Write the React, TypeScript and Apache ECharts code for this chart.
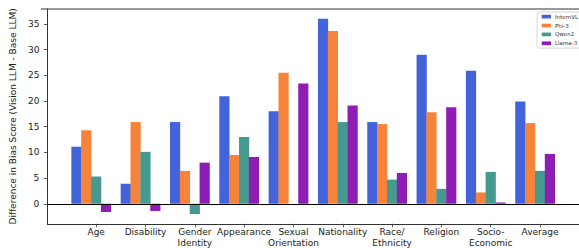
import React, { useEffect, useRef } from "react";
import * as echarts from "echarts";

const categories = [
  "Age",
  "Disability",
  "Gender\nIdentity",
  "Appearance",
  "Sexual\nOrientation",
  "Nationality",
  "Race/\nEthnicity",
  "Religion",
  "Socio-\nEconomic",
  "Average",
];
const modelNames = ["InternVL", "Phi-3", "Qwen2", "Llama-3"];
const internvl = [11.1, 3.9, 15.9, 20.9, 18.0, 36.0, 15.9, 29.0, 25.9, 19.9];
const phi3 = [14.3, 15.9, 6.4, 9.5, 25.5, 33.6, 15.5, 17.8, 2.2, 15.7];
const qwen2 = [5.3, 10.1, -2.0, 13.0, 0, 15.9, 4.7, 2.9, 6.2, 6.4];
const llama3 = [-1.6, -1.4, 8.0, 9.1, 23.4, 19.1, 6.0, 18.8, 0.25, 9.7];
const yTicks = [0, 5, 10, 15, 20, 25, 30, 35];
const colors = ["#4363DB", "#F5843A", "#45998F", "#8E1DB4"];

const FONT = "DejaVu Sans";

export default function App() {
  const ref = useRef<HTMLDivElement>(null);
  useEffect(() => {
    if (!ref.current) return;
    const chart = echarts.init(ref.current, undefined, { renderer: "svg" });
    const allSeries = [internvl, phi3, qwen2, llama3];
    const barW = 0.2;
    const tickIdx = categories.map((_, i) => i);
    const series: any[] = allSeries.map((vals, s) => ({
      name: modelNames[s],
      type: "bar",
      barWidth: 10.2,
      barGap: "-100%",
      itemStyle: { color: colors[s] },
      data: vals.map((v, i) => [i + (s - 2) * barW, v]),
      z: 2,
    }));
    series[0].markLine = {
      silent: true,
      symbol: "none",
      label: { show: false },
      lineStyle: { color: "#000", width: 1.2, type: "solid" },
      data: [{ yAxis: 0 }],
      z: 5,
    };
    chart.setOption({
      animation: false,
      textStyle: { fontFamily: FONT },
      grid: { left: 41, top: 9, width: 548, height: 217, containLabel: false },
      legend: {
        orient: "vertical",
        left: 537,
        top: 12,
        data: modelNames,
        icon: "rect",
        itemWidth: 9.3,
        itemHeight: 3.7,
        itemGap: 2.9,
        padding: [1.6, 3, 1.8, 4.7],
        backgroundColor: "rgba(255,255,255,0.8)",
        borderColor: "#cccccc",
        borderWidth: 0.8,
        borderRadius: 2,
        textStyle: { fontSize: 5.5, lineHeight: 5.5, color: "#333", fontFamily: FONT, padding: [0, 0, 0, -1] },
      },
      xAxis: {
        type: "value",
        min: -0.99,
        max: 9.79,
        splitLine: { show: false },
        axisLine: { show: true, onZero: false, lineStyle: { color: "#333", width: 1 } },
        axisTick: { show: true, length: 3.5, customValues: tickIdx, lineStyle: { color: "#333", width: 0.8 } },
        axisLabel: {
          customValues: tickIdx,
          formatter: (v: number) => categories[Math.round(v)] ?? "",
          fontSize: 9,
          lineHeight: 10.6,
          margin: 3,
          color: "#222",
          fontFamily: FONT,
        },
      },
      yAxis: {
        type: "value",
        min: -3.9,
        max: 37.9,
        name: "Difference in Bias Score (Vision LLM - Base LLM)",
        nameLocation: "middle",
        nameGap: 19,
        nameTextStyle: { fontSize: 9, color: "#222", fontFamily: FONT },
        splitLine: { show: false },
        axisLine: { show: true, onZero: false, lineStyle: { color: "#333", width: 1 } },
        axisTick: { show: true, length: 3.5, customValues: yTicks, lineStyle: { color: "#333", width: 0.8 } },
        axisLabel: {
          customValues: yTicks,
          fontSize: 9,
          margin: 8,
          color: "#222",
          fontFamily: FONT,
        },
      },
      graphic: [
        {
          type: "line",
          shape: { x1: 41, y1: 9, x2: 589, y2: 9 },
          style: { stroke: "#333", lineWidth: 1 },
          silent: true,
        },
      ],
      series,
    });
    return () => chart.dispose();
  }, []);
  return (
    <div
      ref={ref}
      style={{ position: "fixed", left: 0, top: 0, width: 579, height: 248, background: "#fff" }}
    />
  );
}
